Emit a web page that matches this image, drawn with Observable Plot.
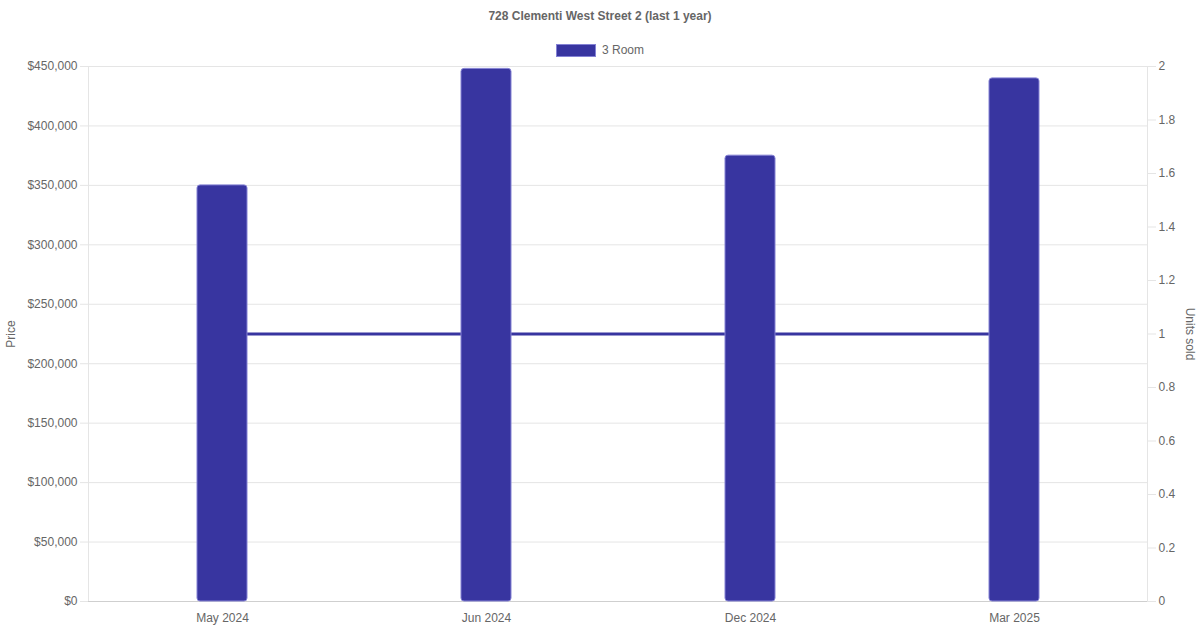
<!DOCTYPE html>
<html>
<head>
<meta charset="utf-8">
<script src="https://cdn.jsdelivr.net/npm/d3@7"></script>
<script src="https://cdn.jsdelivr.net/npm/@observablehq/plot@0.6"></script>
<style>
  html, body { margin: 0; padding: 0; background: #fff; }
  body { width: 1200px; height: 630px; overflow: hidden; font-family: "Liberation Sans", Arial, sans-serif; color: #666; }
  #header { position: relative; height: 60px; }
  #title { position: absolute; top: 9px; left: 0; width: 1200px; text-align: center; font-weight: bold; font-size: 12px; color: #666; }
  #legend { position: absolute; top: 43px; left: 0; width: 1200px; display: flex; justify-content: center; align-items: center; font-size: 12px; color: #666; }
  #legend .swatch { width: 38px; height: 11px; background: #3835a0; border: 1px solid #8482d4; margin-right: 6px; }
  #chart svg { display: block; }
</style>
</head>
<body>
<div id="header">
  <div id="title"></div>
  <div id="legend"><span class="swatch"></span><span id="legendLabel"></span></div>
</div>
<div id="chart"></div>
<script>
const titleText = "728 Clementi West Street 2 (last 1 year)";
const seriesName = "3 Room";
const months = ["May 2024", "Jun 2024", "Dec 2024", "Mar 2025"];
const prices = [350000, 448000, 375000, 440000];
const unitsSold = [1, 1, 1, 1];
const priceTicks = [0, 50000, 100000, 150000, 200000, 250000, 300000, 350000, 400000, 450000];
const unitTicks = [0, 0.2, 0.4, 0.6, 0.8, 1, 1.2, 1.4, 1.6, 1.8, 2];
const priceMax = 450000;
const unitMax = 2;
const leftLabel = "Price";
const rightLabel = "Units sold";

document.getElementById("title").textContent = titleText;
document.getElementById("legendLabel").textContent = seriesName;

const unitScale = priceMax / unitMax;
const data = months.map((m, i) => ({month: m, price: prices[i], units: unitsSold[i]}));

const barColor = "#3835a0";
const barBorder = "#8482d4";
const gridColor = "#e5e5e5";
const textColor = "#666";
const fmtPrice = d => "$" + d3.format(",")(d);
const fmtUnits = d => String(+(d / unitScale).toFixed(1));

const chart = Plot.plot({
  width: 1200,
  height: 570,
  marginTop: 6,
  marginBottom: 29,
  marginLeft: 88,
  marginRight: 53,
  style: {fontFamily: '"Liberation Sans", Arial, sans-serif', fontSize: "12px", background: "#fff", color: textColor},
  x: {domain: months, paddingInner: 0.811, paddingOuter: 0.4056, label: null},
  y: {domain: [0, priceMax], label: null},
  marks: [
    Plot.gridY(priceTicks, {stroke: gridColor, strokeOpacity: 1}),
    Plot.frame({anchor: "left", stroke: gridColor, strokeOpacity: 1}),
    Plot.frame({anchor: "right", stroke: gridColor, strokeOpacity: 1}),
    Plot.ruleY([0], {stroke: "#cfcfcf"}),
    Plot.line(data, {x: "month", y: d => d.units * unitScale, stroke: barColor, strokeWidth: 3}),
    Plot.barY(data, {x: "month", y: "price", fill: barColor, stroke: barBorder, strokeWidth: 1, rx: 3}),
    Plot.axisY(priceTicks, {anchor: "left", tickFormat: fmtPrice, tickSize: 8, tickPadding: 3, stroke: gridColor, strokeOpacity: 1, fill: textColor, label: null}),
    Plot.axisY(unitTicks.map(u => u * unitScale), {anchor: "right", tickFormat: fmtUnits, tickSize: 8, tickPadding: 3, stroke: gridColor, strokeOpacity: 1, fill: textColor, label: null}),
    Plot.axisX({tickSize: 0, tickPadding: 12, fill: textColor, label: null}),
    Plot.text([leftLabel], {frameAnchor: "left", textAnchor: "middle", dx: -77, rotate: -90, fill: textColor, fontSize: 12}),
    Plot.text([rightLabel], {frameAnchor: "right", textAnchor: "middle", dx: 42, rotate: 90, fill: textColor, fontSize: 12})
  ]
});
document.getElementById("chart").appendChild(chart);
</script>
</body>
</html>
